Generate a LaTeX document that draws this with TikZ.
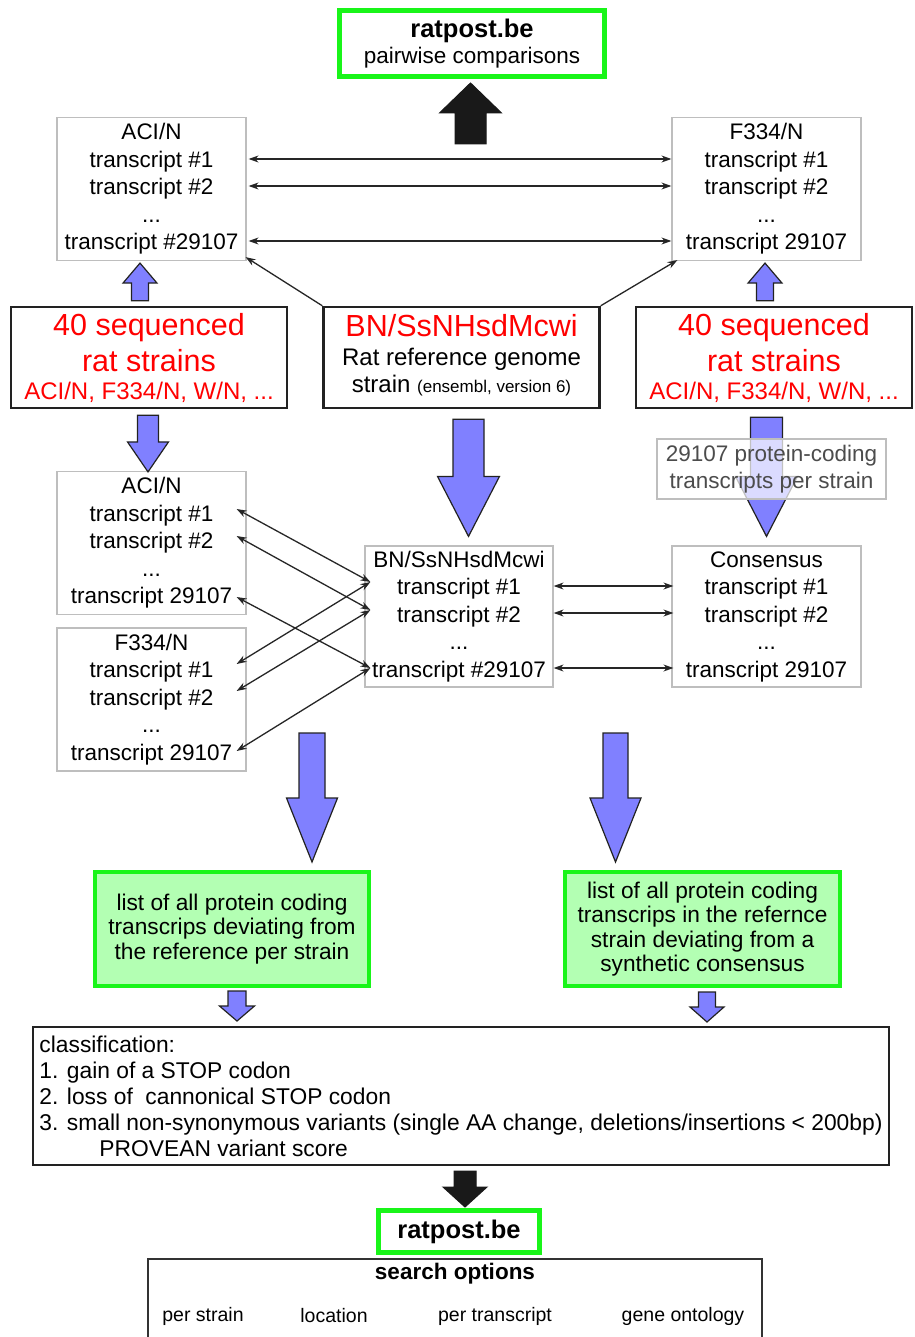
\documentclass[tikz,border=0pt]{standalone}
\usepackage{fontspec}
\setmainfont{Liberation Sans}
\usetikzlibrary{arrows.meta, positioning, calc}

\definecolor{webgreen}{RGB}{25,245,25}
\definecolor{listfill}{RGB}{179,255,179}
\definecolor{arrowblue}{RGB}{128,128,255}
\definecolor{framegray}{RGB}{190,190,190}
\definecolor{edgedark}{RGB}{34,34,34}

\newcommand{\bodysize}{\fontsize{22.5}{27.5}\selectfont}
\newcommand{\bigsize}{\fontsize{30.5}{36}\selectfont}
\newcommand{\midsize}{\fontsize{24}{29}\selectfont}
\newcommand{\smallsize}{\fontsize{17}{20}\selectfont}
\newcommand{\listsize}{\fontsize{22.7}{24.5}\selectfont}
\newcommand{\classsize}{\fontsize{22.8}{26}\selectfont}
\newcommand{\optsize}{\fontsize{19.5}{23}\selectfont}
\newcommand{\websize}{\fontsize{25.5}{30}\selectfont\bfseries}

% block arrow: style, start, tip, half shaft, half head, head length
\newcommand{\fatarrow}[6]{%
  \path[#1] let \p1=#2, \p2=#3, \n1={ifthenelse(\y1>\y2,1,-1)} in
    (\x2-#4,\y1) -- (\x2-#4,{\y2+(\n1)*#6}) -- (\x2-#5,{\y2+(\n1)*#6}) -- (\p2)
    -- (\x2+#5,{\y2+(\n1)*#6}) -- (\x2+#4,{\y2+(\n1)*#6}) -- (\x2+#4,\y1) -- cycle;}

\tikzset{
  transbox/.style={draw=framegray, line width=1.2pt, fill=white, minimum width=189,
    minimum height=143, inner sep=0pt, align=center, font=\bodysize},
  strainbox/.style={draw=edgedark, line width=2.5pt, minimum width=276, minimum height=101,
    inner sep=0pt, align=center, font=\bigsize, text=red},
  refbox/.style={strainbox, font=\midsize, text=black},
  webbox/.style={draw=webgreen, line width=5pt, inner sep=0pt, align=center, font=\bodysize},
  listbox/.style={draw=webgreen, fill=listfill, line width=4pt, minimum width=274,
    minimum height=114, inner sep=0pt, align=center, font=\listsize},
  notebox/.style={draw=framegray, line width=1.2pt, fill=white, fill opacity=0.72,
    text opacity=1, text=black!70, minimum width=229, minimum height=60, inner sep=0pt,
    align=center, font=\fontsize{22.5}{27}\selectfont},
  classbox/.style={draw=edgedark, line width=2pt, minimum width=856, minimum height=138,
    inner sep=0pt, align=left, font=\classsize},
  searchbox/.style={draw=black!80, line width=1.5pt, minimum width=614, minimum height=100},
  bluearrow/.style={fill=arrowblue, draw=edgedark, line width=1.2pt},
  blackarrow/.style={fill=black!90, draw=black!90, line width=1pt},
  conn/.style={line width=1.3pt, draw=black!85}
}

\begin{document}
\begin{tikzpicture}[x=1pt, y=-1pt, >={Stealth[length=10pt, width=7pt]}]
    \clip (0,0) rectangle (914,1337);
    \fill[white] (0,0) rectangle (914,1337);

    % top: web result and the two strain transcript sets
    \node[webbox, minimum width=265, minimum height=66] (web1) at (472,43.5)
        {{\websize ratpost.be}\\[-2pt]pairwise comparisons};
    \node[transbox] (aciT) at (151.5,189)
        {ACI/N\\transcript \#1\\transcript \#2\\...\\transcript \#29107};
    \node[transbox] (f334T) at (766.5,189)
        {F334/N\\transcript \#1\\transcript \#2\\...\\transcript 29107};

    % sources
    \node[strainbox] (redL) at (149,357.5)
        {40 sequenced\\rat strains\\[-8pt]{\midsize ACI/N, F334/N, W/N, ...}};
    \node[refbox] (bn) at (461.5,357.5)
        {{\bigsize\textcolor{red}{BN/SsNHsdMcwi}}\\[0pt]Rat reference genome\\[-2pt]strain {\smallsize (ensembl, version 6)}\rule[-9pt]{0pt}{9pt}};
    \node[strainbox] (redR) at (774,357.5)
        {40 sequenced\\rat strains\\[-8pt]{\midsize ACI/N, F334/N, W/N, ...}};

    % middle: strain sets vs reference vs consensus
    \node[transbox] (aciM) at (151.5,543)
        {ACI/N\\transcript \#1\\transcript \#2\\...\\transcript 29107};
    \node[transbox] (f334M) at (151.5,699.5)
        {F334/N\\transcript \#1\\transcript \#2\\...\\transcript 29107};
    \node[transbox, minimum width=188, minimum height=141] (bnM) at (459,616.5)
        {BN/SsNHsdMcwi\\transcript \#1\\transcript \#2\\...\\transcript \#29107};
    \node[transbox, minimum height=141] (cons) at (766.5,616.5)
        {Consensus\\transcript \#1\\transcript \#2\\...\\transcript 29107};

    % results
    \node[listbox] (listL) at (232,929)
        {list of all protein coding\\transcrips deviating from\\the reference per strain};
    \node[listbox, minimum width=275] (listR) at (702.5,929)
        {list of all protein coding\\transcrips in the refernce\\strain deviating from a\\synthetic consensus};
    \node[classbox] (class) at (461,1096)
        {classification:\\1. gain of a STOP codon\\2. loss of \ cannonical STOP codon\\3. small non-synonymous variants (single AA change, deletions/insertions < 200bp)\\\hspace*{60pt}PROVEAN variant score};
    \node[webbox, minimum width=161, minimum height=42] (web2) at (459,1231.5)
        {\websize ratpost.be};
    \node[searchbox, anchor=north] (search) at (455,1258) {};
    \node[font=\fontsize{22.5}{27}\selectfont\bfseries] (searchHead) at (455,1274) {search options};
    \node[font=\optsize] (optStrain) at (203,1316) {per strain};
    \node[font=\optsize] (optLoc) at (334,1316) {location};
    \node[font=\optsize] (optTrans) at (495,1316) {per transcript};
    \node[font=\optsize] (optGO) at (683,1316) {gene ontology};

    % free ends of block arrows
    \coordinate (cmpFoot) at (470.5,144);
    \coordinate (leftFoot) at (312,733);
    \coordinate (rightFoot) at (615.5,733);

    % block arrows
    \fatarrow{blackarrow}{(cmpFoot)}{($(web1.south)+(-1.5,4)$)}{15.5}{31}{30}
    \fatarrow{bluearrow}{($(redL.north)+(-9,-5)$)}{($(aciT.south)+(-11.5,2)$)}{8.5}{17}{20}
    \fatarrow{bluearrow}{($(redR.north)+(0,-5)$)}{($(f334T.south)+(-1.5,2)$)}{8.5}{17}{20}
    \fatarrow{bluearrow}{($(redL.south)+(0,6)$)}{($(aciM.north)+(-3.5,1)$)}{10.5}{20.5}{30}
    \fatarrow{bluearrow}{($(bn.south)+(0,10)$)}{($(bnM.north)+(9.5,-9)$)}{15.5}{31}{60}
    \fatarrow{bluearrow}{($(redR.south)+(0,8)$)}{($(cons.north)+(0,-9)$)}{16}{31}{60}
    \fatarrow{bluearrow}{(leftFoot)}{($(listL.north)+(80,-8)$)}{13}{25.5}{64}
    \fatarrow{bluearrow}{(rightFoot)}{($(listR.north)+(-87,-8)$)}{12.5}{25.5}{64}
    \fatarrow{bluearrow}{($(listL.south)+(5,3)$)}{($(listL.south |- class.north)+(5,-5)$)}{9}{17.5}{15}
    \fatarrow{bluearrow}{($(listR.south)+(4.5,4)$)}{($(listR.south |- class.north)+(4.5,-4)$)}{8.5}{17}{15}
    \fatarrow{blackarrow}{($(class.south)+(4,5)$)}{($(web2.north)+(6,-1)$)}{11}{22}{20}

    % label over the consensus arrow
    \node[notebox] (note) at (771.5,469) {29107 protein-coding\\transcripts per strain};

    % pairwise links
    \draw[conn]
        ($(aciT.east)+(2,-30)$) edge[<->] ($(f334T.west)+(0,-30)$)
        ($(aciT.east)+(2,-3)$) edge[<->] ($(f334T.west)+(0,-3)$)
        ($(aciT.east)+(2,52)$) edge[<->] ($(f334T.west)+(0,52)$);
    \draw[conn, ->] (bn.north west) -- ($(aciT.south east)+(-1,-4)$);
    \draw[conn, ->] (bn.north east) -- ($(f334T.south west)+(6,-1)$);
    \draw[conn]
        ($(aciM.east)+(-10,-34)$) edge[<->] ($(bnM.west)+(6,-34.5)$)
        ($(aciM.east)+(-10,-7)$) edge[<->] ($(bnM.west)+(6,-6.5)$)
        ($(aciM.east)+(-10,54)$) edge[<->] ($(bnM.west)+(6,51.5)$)
        ($(f334M.east)+(-10,-35.5)$) edge[<->] ($(bnM.west)+(6,-34.5)$)
        ($(f334M.east)+(-10,-8.5)$) edge[<->] ($(bnM.west)+(6,-6.5)$)
        ($(f334M.east)+(-10,51.5)$) edge[<->] ($(bnM.west)+(6,51.5)$);
    \draw[conn]
        ($(bnM.east)+(0,-30.5)$) edge[<->] ($(cons.west)+(2,-30.5)$)
        ($(bnM.east)+(0,-3.5)$) edge[<->] ($(cons.west)+(2,-3.5)$)
        ($(bnM.east)+(0,51.5)$) edge[<->] ($(cons.west)+(2,51.5)$);
\end{tikzpicture}
\end{document}
